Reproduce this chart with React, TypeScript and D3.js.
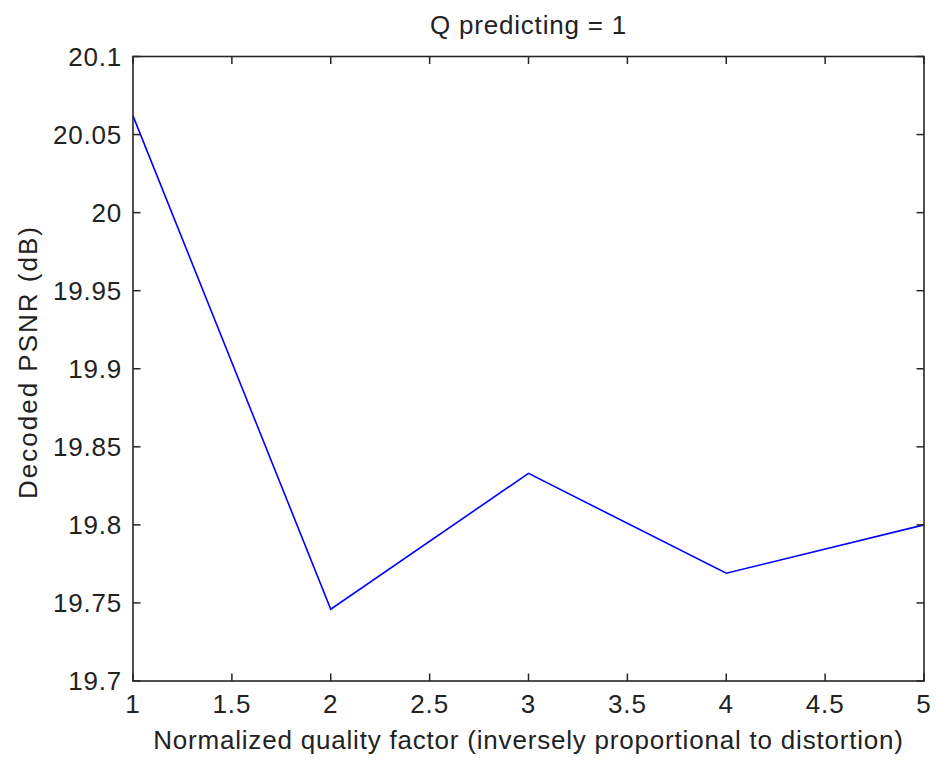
import React from "react";
import * as d3 from "d3";

const xValues = [1, 2, 3, 4, 5];
const psnrValues = [20.062, 19.746, 19.833, 19.769, 19.8];
const xTicks = [1, 1.5, 2, 2.5, 3, 3.5, 4, 4.5, 5];
const yTicks = [19.7, 19.75, 19.8, 19.85, 19.9, 19.95, 20, 20.05, 20.1];
const titleText = "Q predicting = 1";
const xLabelText = "Normalized quality factor (inversely proportional to distortion)";
const yLabelText = "Decoded PSNR (dB)";

const W = 937;
const H = 761;
const M = { left: 133, right: 924, top: 56.5, bottom: 681 };
const FONT = "'Liberation Sans', Arial, sans-serif";
const FS = 26;
const LS = 0.8;
const AX = "#262626";

export default function App() {
  const x = d3.scaleLinear().domain([1, 5]).range([M.left, M.right]);
  const y = d3.scaleLinear().domain([19.7, 20.1]).range([M.bottom, M.top]);
  const line = d3
    .line<number>()
    .x((_, i) => x(xValues[i]))
    .y((d) => y(d));
  const tl = 7.5;
  return (
    <div style={{ position: "absolute", left: 0, top: 0 }}>
      <svg width={W} height={H} style={{ display: "block", background: "#fff" }}>
        <path d={line(psnrValues) || ""} fill="none" stroke="#0000ff" strokeWidth={1.6} />
        <rect
          x={M.left}
          y={M.top}
          width={M.right - M.left}
          height={M.bottom - M.top}
          fill="none"
          stroke={AX}
          strokeWidth={1.6}
        />
        {xTicks.map((t) => (
          <g key={"x" + t}>
            <line x1={x(t)} x2={x(t)} y1={M.bottom} y2={M.bottom - tl} stroke={AX} strokeWidth={1.5} />
            <line x1={x(t)} x2={x(t)} y1={M.top} y2={M.top + tl} stroke={AX} strokeWidth={1.5} />
            <text
              x={x(t)}
              y={713}
              textAnchor="middle"
              fontFamily={FONT}
              fontSize={FS}
              letterSpacing={LS}
              fill="#222"
            >
              {String(t)}
            </text>
          </g>
        ))}
        {yTicks.map((t) => (
          <g key={"y" + t}>
            <line x1={M.left} x2={M.left + tl} y1={y(t)} y2={y(t)} stroke={AX} strokeWidth={1.5} />
            <line x1={M.right} x2={M.right - tl} y1={y(t)} y2={y(t)} stroke={AX} strokeWidth={1.5} />
            <text
              x={122}
              y={y(t)}
              dy="0.35em"
              textAnchor="end"
              fontFamily={FONT}
              fontSize={FS}
              letterSpacing={LS}
              fill="#222"
            >
              {String(Number(t.toFixed(2)))}
            </text>
          </g>
        ))}
        <text
          x={(M.left + M.right) / 2}
          y={33.5}
          textAnchor="middle"
          fontFamily={FONT}
          fontSize={FS}
          letterSpacing={LS}
          fill="#222"
        >
          {titleText}
        </text>
        <text
          x={(M.left + M.right) / 2}
          y={749}
          textAnchor="middle"
          fontFamily={FONT}
          fontSize={FS}
          letterSpacing={LS}
          fill="#222"
        >
          {xLabelText}
        </text>
        <text
          transform={`translate(37, 362) rotate(-90)`}
          textAnchor="middle"
          fontFamily={FONT}
          fontSize={FS}
          letterSpacing={2}
          fill="#222"
        >
          {yLabelText}
        </text>
      </svg>
    </div>
  );
}
